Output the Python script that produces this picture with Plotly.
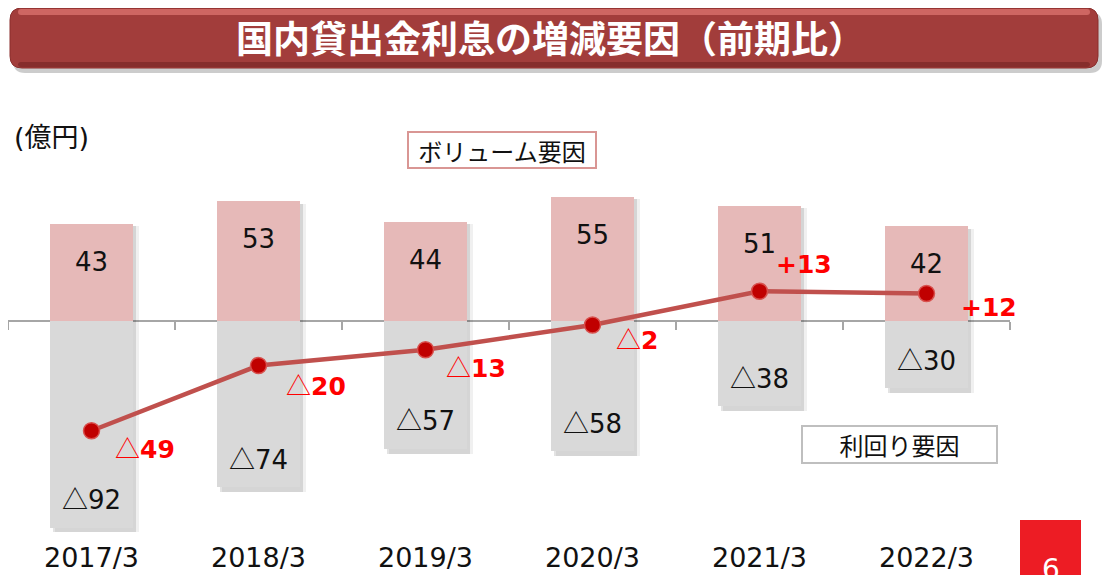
import plotly.graph_objects as go

# ── Data ──────────────────────────────────────────────────────────────────────
years = ['2017/3', '2018/3', '2019/3', '2020/3', '2021/3', '2022/3']
volume_factor = [43, 53, 44, 55, 51, 42]          # ボリューム要因
yield_factor = [-92, -74, -57, -58, -38, -30]     # 利回り要因
net_change = [-49, -20, -13, -2, 13, 12]          # 増減

title_text = '国内貸出金利息の増減要因（前期比）'
unit_text = '(億円)'
volume_label = 'ボリューム要因'
yield_label = '利回り要因'
page_no = '6'

# label offsets for the net-change labels (px, relative to marker)
net_label_shift = [(21, -16), (25, -18), (18, -16), (21, -13), (14, 27), (32, -14)]

# ── Layout geometry (screen px; page body has an 8px margin) ──────────────────
W, H = 1116, 575
OFF = 8
PLOT_L, PLOT_R, PLOT_T, PLOT_B = 8, 1010, 150, 539
PW, PH = PLOT_R - PLOT_L, PLOT_B - PLOT_T
ZERO_PX, PX_PER_UNIT = 320.5, 2.25
y_max = (ZERO_PX - PLOT_T) / PX_PER_UNIT
y_min = -(PLOT_B - ZERO_PX) / PX_PER_UNIT


def px(x):
    return (x - PLOT_L) / PW


def py(y):
    return (PLOT_B - y) / PH


def rounded_rect(x0, y0, x1, y1, r):
    a, b, c, d = px(x0), px(x1), py(y0), py(y1)
    rx, ry = r / PW, r / PH
    return (f'M {a + rx},{c} L {b - rx},{c} Q {b},{c} {b},{c - ry} '
            f'L {b},{d + ry} Q {b},{d} {b - rx},{d} L {a + rx},{d} '
            f'Q {a},{d} {a},{d + ry} L {a},{c - ry} Q {a},{c} {a + rx},{c} Z')


FONT = 'DejaVu Sans, Noto Sans CJK JP, sans-serif'
JP_FONT = 'Noto Sans CJK JP, sans-serif'
TRI = '<span style="font-family:Noto Sans CJK JP">△</span>'
xs = list(range(len(years)))

fig = go.Figure()

# soft bar shadows
for dx, alpha in [(0.034, 0.06), (0.018, 0.11)]:
    fig.add_trace(go.Bar(x=xs, y=[v - 1.2 for v in volume_factor], base=0, width=0.5,
                         offset=-0.25 + dx, marker=dict(color=f'rgba(0,0,0,{alpha})', line_width=0),
                         hoverinfo='skip', showlegend=False))
    fig.add_trace(go.Bar(x=xs, y=[v - 2.2 for v in yield_factor], base=0, width=0.5,
                         offset=-0.25 + dx, marker=dict(color=f'rgba(0,0,0,{alpha})', line_width=0),
                         hoverinfo='skip', showlegend=False))

fig.add_trace(go.Bar(x=xs, y=volume_factor, width=0.5, name=volume_label,
                     marker=dict(color='#E6B9B8', line_width=0), showlegend=False))
fig.add_trace(go.Bar(x=xs, y=yield_factor, width=0.5, name=yield_label,
                     marker=dict(color='#D9D9D9', line_width=0), showlegend=False))

fig.add_trace(go.Scatter(
    x=xs, y=net_change, mode='lines+markers', xaxis='x2', showlegend=False,
    line=dict(color='#C0504D', width=4.5),
    marker=dict(size=16, color='#C00000', line=dict(color='#D8514E', width=1.5)),
))

annotations = []
for i, v in enumerate(volume_factor):
    annotations.append(dict(x=i, y=v, xref='x', yref='y', text=str(v), showarrow=False,
                            yshift=-38, font=dict(size=26, color='#111111', family=FONT)))
for i, v in enumerate(yield_factor):
    annotations.append(dict(x=i, y=v, xref='x', yref='y', text=f'{TRI}{abs(v)}', showarrow=False,
                            yshift=30, font=dict(size=26, color='#111111', family=FONT)))
for i, v in enumerate(net_change):
    txt = f'{TRI}<b>{abs(v)}</b>' if v < 0 else f'<b>+{v}</b>'
    sx, sy = net_label_shift[i]
    annotations.append(dict(x=i, y=v, xref='x', yref='y', text=txt, showarrow=False,
                            xanchor='left', xshift=sx, yshift=sy,
                            font=dict(size=25, color='#FF0000', family=FONT)))

# legend boxes, unit, title, page number
paper_ann = dict(xref='paper', yref='paper', showarrow=False, yanchor='middle')
annotations += [
    dict(**paper_ann, x=px(502), y=py(150), xanchor='center', text=volume_label,
         width=186, height=34, bordercolor='#D99694', borderwidth=2, borderpad=0, bgcolor='white',
         font=dict(size=24, color='#111111', family=JP_FONT)),
    dict(**paper_ann, x=px(899.5), y=py(444.5), xanchor='center', text=yield_label,
         width=193, height=35, bordercolor='#BFBFBF', borderwidth=2, borderpad=0, bgcolor='white',
         font=dict(size=24, color='#111111', family=JP_FONT)),
    dict(**paper_ann, x=px(12), y=py(138), xanchor='left', text=unit_text,
         font=dict(size=27, color='#111111', family=FONT)),
    dict(**paper_ann, x=px(550), y=py(37), xanchor='center', text=f'<b>{title_text}</b>',
         font=dict(size=37, color='white', family=JP_FONT)),
    dict(**paper_ann, x=px(1051), y=py(569), xanchor='center', text=page_no,
         font=dict(size=28, color='white', family=FONT)),
]

shapes = [
    dict(type='path', xref='paper', yref='paper', path=rounded_rect(13, 12, 1102, 73, 12),
         fillcolor='rgba(0,0,0,0.2)', line_width=0, layer='below'),
    dict(type='path', xref='paper', yref='paper', path=rounded_rect(10, 8, 1098, 68, 12),
         fillcolor='#A23D3B', line=dict(color='#8A2F2D', width=1), layer='below'),
    dict(type='path', xref='paper', yref='paper', path=rounded_rect(18, 9, 1090, 15, 3),
         fillcolor='rgba(235,130,125,0.6)', line_width=0, layer='below'),
    dict(type='path', xref='paper', yref='paper', path=rounded_rect(18, 62, 1090, 67, 3),
         fillcolor='rgba(70,10,10,0.3)', line_width=0, layer='below'),
    dict(type='rect', xref='paper', yref='paper', x0=px(1020), x1=px(1081), y0=py(520), y1=py(590),
         fillcolor='#ED1C24', line_width=0, layer='below'),
]

axis_common = dict(range=[-0.5, 5.5], showgrid=False, zeroline=False)
fig.update_layout(
    width=W, height=H,
    margin=dict(l=PLOT_L - OFF, r=W - (PLOT_R - OFF), t=PLOT_T - OFF, b=H - (PLOT_B - OFF)),
    paper_bgcolor='white', plot_bgcolor='white',
    barmode='overlay', bargap=0,
    xaxis=dict(**axis_common, anchor='free', position=py(ZERO_PX),
               tickvals=[i - 0.5 for i in range(len(years) + 1)], showticklabels=False,
               ticks='outside', ticklen=8, tickwidth=2, tickcolor='#A6A6A6',
               showline=True, linecolor='#A6A6A6', linewidth=2, layer='below traces'),
    xaxis2=dict(**axis_common, overlaying='x', anchor='y', side='bottom',
                tickvals=xs, ticktext=years, ticks='', showline=False,
                tickfont=dict(size=27, color='#111111', family=FONT)),
    yaxis=dict(range=[y_min, y_max], visible=False, showgrid=False, zeroline=False),
    annotations=annotations,
    shapes=shapes,
)

fig.write_html('out.html')
